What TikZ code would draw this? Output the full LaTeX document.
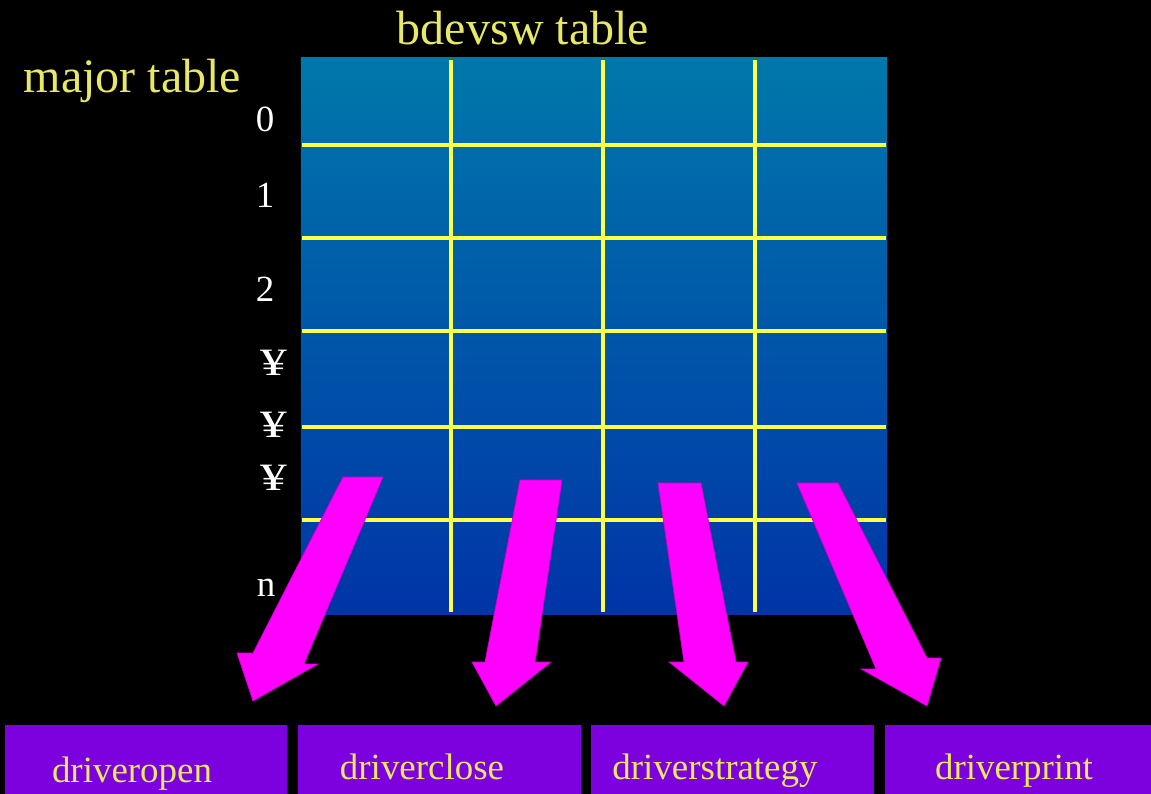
\documentclass[tikz,border=0pt]{standalone}
\usepackage{fontspec}
\setmainfont{Liberation Serif}
\definecolor{ttext}{RGB}{232,232,100}
\definecolor{gridy}{RGB}{255,255,70}
\definecolor{tabtop}{RGB}{0,120,170}
\definecolor{tabbot}{RGB}{0,52,168}
\definecolor{boxpurple}{RGB}{125,0,222}
\definecolor{arrmag}{RGB}{255,0,255}
\newcommand{\wideyen}{\scalebox{1.45}[1.05]{¥}}
\begin{document}
\begin{tikzpicture}[x=0.01cm,y=-0.01cm,
  title/.style={font=\fontsize{13.66pt}{16pt}\selectfont, text=ttext, anchor=base, inner sep=0pt},
  rowlbl/.style={font=\fontsize{10.5pt}{12pt}\selectfont, text=white, anchor=base, inner sep=0pt},
  boxlbl/.style={font=\fontsize{10.5pt}{12pt}\selectfont, text=ttext, anchor=base, inner sep=0pt},
  gridline/.style={draw=gridy, line width=1pt},
  drvbox/.style={fill=boxpurple, draw=none},
  blockarrow/.style={fill=arrmag, draw=arrmag!80!black, line width=0.2pt, line join=miter}]
\useasboundingbox (0,0) rectangle (1151,794);
\fill[black] (0,0) rectangle (1151,794);
% table
\node[top color=tabtop, bottom color=tabbot, minimum width=5.86cm, minimum height=5.56cm, inner sep=0pt, draw=none] (tab) at (594,336) {};
\foreach \xx in {451,603,755} \draw[gridline] (\xx,60) -- (\xx,612);
\foreach \yy in {145,238,331,427,520} \draw[gridline] (302,\yy) -- (886,\yy);
% titles
\node[title] (major) at (132.5,93) {major table};
\node[title] (bdevsw) at (523,45) {bdevsw table};
% row labels
\node[rowlbl] (r0) at (265,132) {0};
\node[rowlbl] (r1) at (265,208) {1};
\node[rowlbl] (r2) at (265,302) {2};
\node[rowlbl] (y1) at (274,376) {\wideyen};
\node[rowlbl] (y2) at (274,437) {\wideyen};
\node[rowlbl] (y3) at (274,491) {\wideyen};
\node[rowlbl] (rn) at (266,596) {n};
% driver boxes
\fill[drvbox] (5,725) rectangle (287,800);
\fill[drvbox] (298,725) rectangle (581,800);
\fill[drvbox] (591,725) rectangle (874,800);
\fill[drvbox] (885,725) rectangle (1160,800);
\node[boxlbl] (dopen) at (132,782) {driveropen};
\node[boxlbl] (dclose) at (422,779) {driverclose};
\node[boxlbl] (dstrat) at (715,779) {driverstrategy};
\node[boxlbl] (dprint) at (1014,779) {driverprint};
% block arrows
\filldraw[blockarrow] (343,477) -- (383,477) -- (304,664) -- (318,664) -- (253,701) -- (237,653) -- (253,653) -- cycle;
\filldraw[blockarrow] (520,480) -- (562,480) -- (535,662) -- (551,662) -- (496,706) -- (472,662) -- (485,662) -- cycle;
\filldraw[blockarrow] (658,483) -- (701,483) -- (736,662) -- (748,662) -- (724,706) -- (669,662) -- (684,662) -- cycle;
\filldraw[blockarrow] (797,483) -- (838,483) -- (927,658) -- (941,658) -- (927,706) -- (861,669) -- (876,669) -- cycle;
\end{tikzpicture}
\end{document}
